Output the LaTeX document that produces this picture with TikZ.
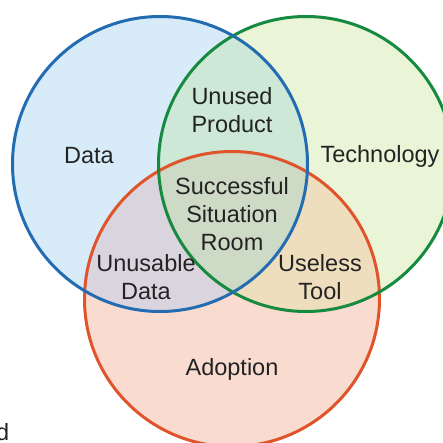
\documentclass[tikz,border=0pt]{standalone}
\usepackage{fontspec}
\setmainfont{Liberation Sans}
\definecolor{datablue}{RGB}{35,108,178}
\definecolor{techgreen}{RGB}{22,138,62}
\definecolor{adoptred}{RGB}{224,84,44}
\definecolor{datafill}{RGB}{215,235,248}
\definecolor{techfill}{RGB}{234,244,214}
\definecolor{adoptfill}{RGB}{249,219,208}
\definecolor{dtfill}{RGB}{205,232,215}
\definecolor{dafill}{RGB}{218,212,222}
\definecolor{tafill}{RGB}{238,222,190}
\definecolor{allfill}{RGB}{205,218,198}
\definecolor{labelgray}{RGB}{35,35,35}
\newcommand{\datac}{(160,164) circle (147.5)}
\newcommand{\techc}{(306,164) circle (147.5)}
\newcommand{\adoptc}{(232,299) circle (147.5)}

\begin{document}
\begin{tikzpicture}[x=1pt,y=-1pt,font=\fontsize{23.5}{28}\selectfont,
    lbl/.style={text=labelgray,align=center,inner sep=0pt}]
\useasboundingbox (0,0) rectangle (443,442);
\clip (0,0) rectangle (443,442);
\fill[white] (0,0) rectangle (443,442);
% single sets
\fill[datafill] \datac;
\fill[techfill] \techc;
\fill[adoptfill] \adoptc;
% pairwise overlaps
\begin{scope}
  \clip \datac;
  \fill[dtfill] \techc;
  \fill[dafill] \adoptc;
\end{scope}
\begin{scope}
  \clip \techc;
  \fill[tafill] \adoptc;
\end{scope}
% all three
\begin{scope}
  \clip \datac;
  \clip \techc;
  \fill[allfill] \adoptc;
\end{scope}
\draw[adoptred, line width=3pt] \adoptc;
\draw[techgreen, line width=3pt] \techc;
\draw[datablue, line width=3pt] \datac;
% labels
\node[lbl] (data) at (89,156) {Data};
\node[lbl] (tech) at (380,156) {Technology};
\node[lbl] (adopt) at (232,369) {Adoption};
\node[lbl] (unused) at (232,110) {Unused\\Product};
\node[lbl] (success) at (232,214) {Successful\\Situation\\Room};
\node[lbl] (unusable) at (146,277) {Unusable\\Data};
\node[lbl] (useless) at (320,277) {Useless\\Tool};
\node[lbl, anchor=base west] (cut) at (-4,440) {d};
\end{tikzpicture}
\end{document}
